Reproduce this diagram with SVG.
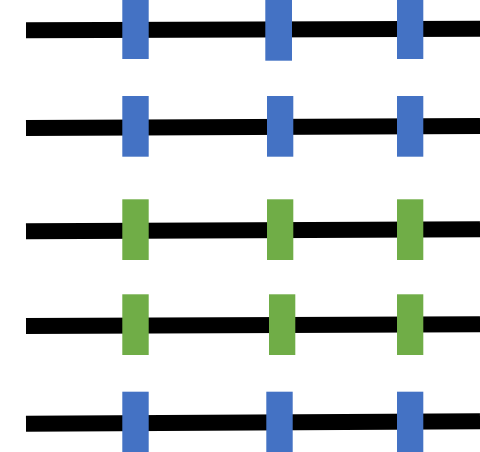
<svg xmlns="http://www.w3.org/2000/svg" width="480" height="452" viewBox="0 0 480 452">
<style>
.ln{stroke:#000;stroke-width:16;stroke-linecap:butt;fill:none}
.b{fill:#4472C4}
.g{fill:#70AD47}
</style>
<rect width="480" height="452" fill="#fff"/>
<g id="connectors">
<line class="ln" x1="26" y1="30.3" x2="480" y2="28.7"/>
<line class="ln" x1="26" y1="128" x2="480" y2="126"/>
<line class="ln" x1="26" y1="231.3" x2="480" y2="229.3"/>
<line class="ln" x1="26" y1="326" x2="480" y2="324.2"/>
<line class="ln" x1="26" y1="423.8" x2="480" y2="421.3"/>
</g>
<g id="r1a"><rect class="b" x="122.3" y="0" width="26.4" height="59"/></g>
<g id="r1b"><rect class="b" x="265.3" y="0" width="26.7" height="60.7"/></g>
<g id="r1c"><rect class="b" x="397" y="0" width="26.3" height="59"/></g>
<g id="r2a"><rect class="b" x="122.3" y="96" width="26.4" height="60.7"/></g>
<g id="r2b"><rect class="b" x="267" y="96" width="26.3" height="60.7"/></g>
<g id="r2c"><rect class="b" x="397" y="96" width="26.3" height="60.7"/></g>
<g id="r3a"><rect class="g" x="122.3" y="199.3" width="26.4" height="60.7"/></g>
<g id="r3b"><rect class="g" x="267" y="199.3" width="26.3" height="60.7"/></g>
<g id="r3c"><rect class="g" x="397" y="199.3" width="26.3" height="60.7"/></g>
<g id="r4a"><rect class="g" x="122.3" y="294.3" width="26.4" height="60.7"/></g>
<g id="r4b"><rect class="g" x="269" y="294.3" width="26.3" height="60.7"/></g>
<g id="r4c"><rect class="g" x="397" y="294.3" width="26.3" height="60.7"/></g>
<g id="r5a"><rect class="b" x="122.3" y="391.7" width="26.4" height="60.3"/></g>
<g id="r5b"><rect class="b" x="266.3" y="391.7" width="26.4" height="60.3"/></g>
<g id="r5c"><rect class="b" x="397" y="391.7" width="26.3" height="60.3"/></g>
</svg>
